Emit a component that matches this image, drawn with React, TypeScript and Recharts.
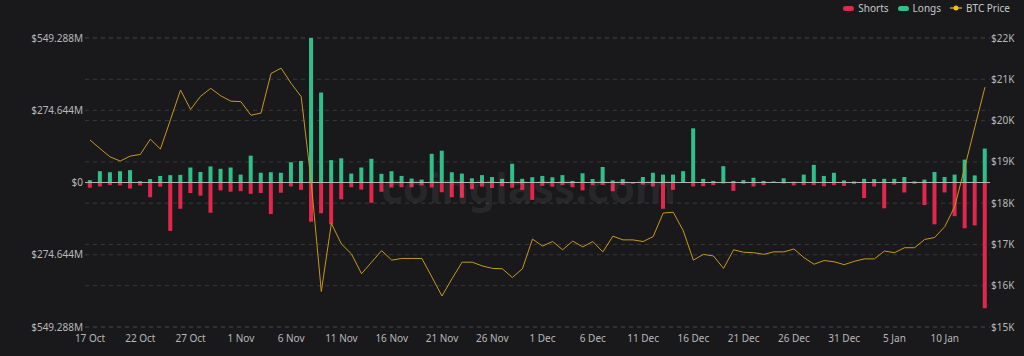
import React from 'react'
import { ComposedChart, Bar, Line, XAxis, YAxis, CartesianGrid, ReferenceLine } from 'recharts'

const dates = [
  '17 Oct', '18 Oct', '19 Oct', '20 Oct', '21 Oct', '22 Oct', '23 Oct', '24 Oct', '25 Oct', '26 Oct',
  '27 Oct', '28 Oct', '29 Oct', '30 Oct', '31 Oct', '1 Nov', '2 Nov', '3 Nov', '4 Nov', '5 Nov',
  '6 Nov', '7 Nov', '8 Nov', '9 Nov', '10 Nov', '11 Nov', '12 Nov', '13 Nov', '14 Nov', '15 Nov',
  '16 Nov', '17 Nov', '18 Nov', '19 Nov', '20 Nov', '21 Nov', '22 Nov', '23 Nov', '24 Nov', '25 Nov',
  '26 Nov', '27 Nov', '28 Nov', '29 Nov', '30 Nov', '1 Dec', '2 Dec', '3 Dec', '4 Dec', '5 Dec',
  '6 Dec', '7 Dec', '8 Dec', '9 Dec', '10 Dec', '11 Dec', '12 Dec', '13 Dec', '14 Dec', '15 Dec',
  '16 Dec', '17 Dec', '18 Dec', '19 Dec', '20 Dec', '21 Dec', '22 Dec', '23 Dec', '24 Dec', '25 Dec',
  '26 Dec', '27 Dec', '28 Dec', '29 Dec', '30 Dec', '31 Dec', '1 Jan', '2 Jan', '3 Jan', '4 Jan',
  '5 Jan', '6 Jan', '7 Jan', '8 Jan', '9 Jan', '10 Jan', '11 Jan', '12 Jan', '13 Jan', '14 Jan',
]

// liquidations, $M
const longs = [
  9, 43, 39, 43, 47, 5, 13, 25, 28, 29,
  57, 40, 61, 52, 57, 30, 102, 37, 39, 37,
  77, 82, 549.288, 342, 85, 92, 34, 57, 90, 33,
  43, 25, 15, 11, 109, 121, 39, 34, 16, 28,
  21, 14, 71, 14, 20, 25, 20, 28, 6, 35,
  13, 59, 8, 13, 2, 21, 37, 30, 30, 43,
  206, 14, 6, 62, 6, 9, 18, 6, 4, 16,
  3, 30, 67, 25, 37, 8, 4, 14, 13, 14,
  14, 21, 4, 11, 40, 21, 30, 87, 27, 129,
]

const shorts = [
  20, 15, 10, 11, 23, 11, 56, 16, 184, 100,
  40, 50, 115, 30, 35, 33, 43, 40, 120, 39,
  15, 28, 149, 117, 159, 64, 18, 27, 77, 35,
  19, 18, 18, 11, 19, 37, 56, 58, 25, 16,
  21, 14, 20, 28, 66, 13, 16, 10, 18, 30,
  10, 9, 33, 9, 5, 8, 15, 100, 28, 2,
  15, 14, 10, 4, 32, 5, 15, 10, 1, 4,
  11, 10, 10, 14, 10, 13, 6, 59, 15, 98,
  8, 38, 5, 86, 159, 38, 128, 174, 163, 478,
]

// BTC price, $K
const btcPrice = [
  19.53, 19.32, 19.12, 19.02, 19.14, 19.18, 19.55, 19.31, 20.02, 20.74,
  20.27, 20.59, 20.78, 20.6, 20.47, 20.46, 20.13, 20.18, 21.14, 21.27,
  20.9, 20.58, 18.5, 15.86, 17.51, 17.01, 16.77, 16.29, 16.57, 16.85,
  16.62, 16.66, 16.66, 16.66, 16.21, 15.75, 16.17, 16.57, 16.57, 16.48,
  16.42, 16.41, 16.2, 16.41, 17.13, 16.96, 17.07, 16.87, 17.08, 16.94,
  17.07, 16.82, 17.2, 17.11, 17.11, 17.07, 17.19, 17.76, 17.78, 17.33,
  16.62, 16.76, 16.72, 16.42, 16.87, 16.81, 16.8, 16.76, 16.82, 16.82,
  16.89, 16.68, 16.52, 16.61, 16.58, 16.51, 16.59, 16.65, 16.65, 16.84,
  16.8, 16.92, 16.92, 17.12, 17.17, 17.43, 17.92, 18.88, 19.85, 20.81,
]

const leftTicks = [-549.288, -274.644, 0, 274.644, 549.288]
const rightTicks = [15, 16, 17, 18, 19, 20, 21, 22]

const RED = '#e3264c'
const GREEN = '#2fbf88'
const GOLD = '#c9971a'
const TEXT = '#b8b8b8'
const BG = '#19191c'

const data = dates.map((d, i) => ({
  date: d,
  shorts: -shorts[i],
  longs: longs[i],
  price: btcPrice[i],
}))

const fmtLeft = (v: number) => (v === 0 ? '$0' : `$${Math.abs(v)}M`)
const fmtRight = (v: number) => `$${v}K`

function LegendBox() {
  const item = { display: 'flex', alignItems: 'center', marginLeft: 9 }
  const pill = (c: string) => ({ width: 11, height: 5, borderRadius: 3, background: c, marginRight: 4 })
  return (
    <div
      style={{
        position: 'absolute',
        top: 1,
        right: 14,
        display: 'flex',
        fontFamily: '"Noto Sans", sans-serif',
        fontSize: 10,
        color: '#c8c8c8',
      }}
    >
      <div style={item}>
        <span style={pill(RED)} />
        Shorts
      </div>
      <div style={item}>
        <span style={pill(GREEN)} />
        Longs
      </div>
      <div style={item}>
        <svg width={12} height={8} style={{ marginRight: 4 }}>
          <line x1={0} y1={4} x2={12} y2={4} stroke={GOLD} strokeWidth={1.5} />
          <circle cx={6} cy={4} r={2.5} fill="#f0c020" />
        </svg>
        BTC Price
      </div>
    </div>
  )
}

export default function App() {
  return (
    <div
      style={{
        position: 'absolute',
        left: 0,
        top: 0,
        width: 1024,
        height: 356,
        background: BG,
        overflow: 'hidden',
      }}
    >
      <ComposedChart
        width={1024}
        height={356}
        data={data}
        stackOffset="sign"
        barCategoryGap="28%"
        margin={{ top: 38, right: 0, bottom: 0, left: 0 }}
        style={{ fontFamily: '"Noto Sans", sans-serif' }}
      >
        <CartesianGrid yAxisId="left" vertical={false} stroke="#38383c" strokeDasharray="4 4" />
        <CartesianGrid yAxisId="right" vertical={false} stroke="#38383c" strokeDasharray="4 4" />
        <XAxis
          dataKey="date"
          interval={4}
          axisLine={false}
          tickLine={false}
          height={29}
          tick={{ fill: TEXT, fontSize: 10 }}
        />
        <YAxis
          yAxisId="left"
          width={85}
          domain={[-549.288, 549.288]}
          ticks={leftTicks}
          tickFormatter={fmtLeft}
          axisLine={false}
          tickLine={false}
          tickSize={0}
          tickMargin={2}
          tick={{ fill: TEXT, fontSize: 10 }}
        />
        <YAxis
          yAxisId="right"
          orientation="right"
          width={34}
          domain={[15, 22]}
          ticks={rightTicks}
          tickFormatter={fmtRight}
          axisLine={false}
          tickLine={false}
          tickSize={0}
          tickMargin={1}
          tick={{ fill: TEXT, fontSize: 10 }}
        />
        <Bar yAxisId="left" dataKey="shorts" name="Shorts" stackId="a" fill={RED} isAnimationActive={false} />
        <Bar yAxisId="left" dataKey="longs" name="Longs" stackId="a" fill={GREEN} isAnimationActive={false} />
        <ReferenceLine yAxisId="left" y={0} stroke="#b4b4b4" strokeWidth={1} />
        <Line
          yAxisId="right"
          type="linear"
          dataKey="price"
          name="BTC Price"
          stroke={GOLD}
          strokeWidth={1}
          dot={false}
          isAnimationActive={false}
        />
      </ComposedChart>
      <svg
        width={1024}
        height={356}
        style={{ position: 'absolute', left: 0, top: 0, pointerEvents: 'none' }}
      >
        <text
          x={381}
          y={203}
          fontFamily='"Noto Sans", sans-serif'
          fontWeight={700}
          fontSize={42}
          fill="rgba(255,255,255,0.07)"
        >
          coinglass.com
        </text>
      </svg>
      <LegendBox />
    </div>
  )
}
